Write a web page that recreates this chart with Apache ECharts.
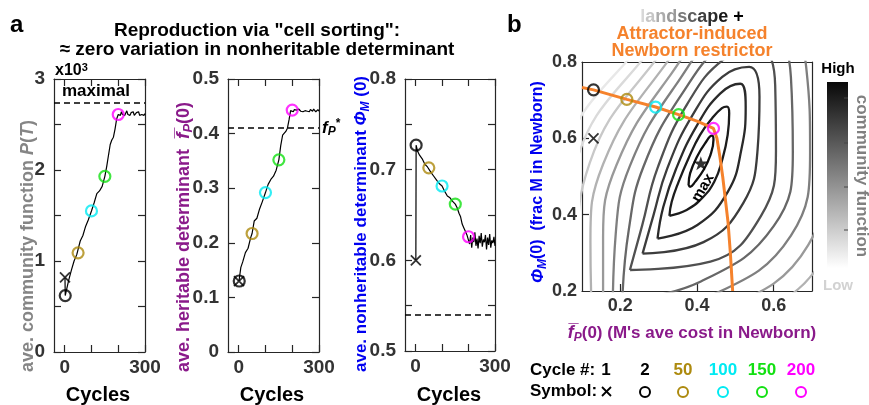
<!DOCTYPE html>
<html><head><meta charset="utf-8">
<script src="https://cdn.jsdelivr.net/npm/echarts@6/dist/echarts.min.js"></script>
<style>html,body{margin:0;padding:0;background:#fff}#c{width:869px;height:405px}</style>
</head><body><div id="c"></div>
<script>
// ---------------- DATA ----------------
const cycles = [1,2,8,15,25,35,45,50,58,68,78,88,100,110,120,130,140,150,157,164,170,176,182,188,194,200,
  204,208,212,216,220,224,228,232,236,240,244,248,252,256,260,264,268,272,276,280,284,288,292,296,300];
// ave. community function P(T), x10^3
const commFn = [0.82,0.62,0.70,0.79,0.90,1.00,1.07,1.09,1.22,1.28,1.38,1.45,1.55,1.64,1.74,1.77,1.82,1.93,2.04,2.17,2.28,2.33,2.36,2.45,2.56,2.61,
  2.62,2.60,2.64,2.61,2.63,2.60,2.62,2.65,2.61,2.62,2.60,2.63,2.62,2.64,2.60,2.62,2.63,2.61,2.64,2.60,2.62,2.61,2.63,2.60,2.62];
// ave. heritable determinant fP(0)
const heritable = [0.13,0.13,0.155,0.165,0.182,0.19,0.21,0.217,0.24,0.245,0.262,0.275,0.292,0.307,0.316,0.322,0.333,0.352,0.378,0.397,0.40,0.404,0.41,0.425,0.442,0.443,
  0.440,0.444,0.441,0.443,0.440,0.445,0.442,0.441,0.444,0.440,0.443,0.442,0.445,0.441,0.443,0.440,0.444,0.442,0.441,0.445,0.442,0.440,0.443,0.444,0.441];
// ave. nonheritable determinant PhiM(0)
const nonheritable = [0.60,0.727,0.72,0.716,0.712,0.706,0.703,0.702,0.697,0.693,0.689,0.685,0.682,0.676,0.671,0.669,0.665,0.662,0.658,0.652,0.648,0.640,0.636,0.632,0.628,0.626,
  0.618,0.628,0.614,0.625,0.620,0.631,0.616,0.624,0.613,0.627,0.619,0.630,0.615,0.623,0.620,0.628,0.612,0.625,0.617,0.629,0.614,0.622,0.619,0.626,0.616];

const crossCycle = 1;                       // cycle 1 -> "x"
const markerCycles = [2, 50, 100, 150, 200];  // circles
const markerLabels = ['2','50','100','150','200'];
const markerColors = ['#000000','#ad8a0e','#00eaf2','#12e012','#ff00ff'];

const maximalP = 2.74;   // "maximal" dashed line (x10^3)
const fPstar = 0.41;     // fP* dashed line
const phiStar = 0.54;    // dashed line in PhiM panel

// attractor-induced Newborn restrictor (panel b)
const restrictorFP  = [0.10,0.13,0.217,0.292,0.352,0.40,0.443,0.452,0.46,0.467,0.474,0.481,0.487,0.493];
const restrictorPhi = [0.733,0.727,0.702,0.682,0.662,0.645,0.626,0.60,0.55,0.50,0.44,0.38,0.30,0.20];
const maxPoint = [0.41, 0.535];

// contour lines of the community-function landscape (inner -> outer)
const ring1  = [[0.378,0.478],[0.382,0.508],[0.400,0.552],[0.421,0.587],[0.439,0.607],[0.443,0.596],[0.435,0.556],[0.417,0.517],[0.395,0.486],[0.382,0.473]];
const ring2  = [[0.328,0.397],[0.373,0.412],[0.413,0.443],[0.445,0.486],[0.467,0.548],[0.480,0.609],[0.484,0.666],[0.478,0.683],[0.465,0.679],[0.439,0.652],[0.408,0.609],[0.378,0.548],[0.352,0.486],[0.334,0.434]];
const ring3  = [[0.297,0.337],[0.401,0.373],[0.481,0.461],[0.516,0.572],[0.527,0.683],[0.513,0.743],[0.461,0.718],[0.400,0.634],[0.345,0.519],[0.312,0.420]];
const ring4  = [[0.258,0.298],[0.417,0.328],[0.521,0.431],[0.558,0.570],[0.563,0.709],[0.536,0.787],[0.466,0.761],[0.388,0.660],[0.322,0.520],[0.286,0.397]];
const ring5  = [[0.225,0.255],[0.435,0.277],[0.567,0.397],[0.606,0.566],[0.604,0.738],[0.562,0.836],[0.471,0.808],[0.374,0.689],[0.297,0.522],[0.257,0.372]];
const ring6  = [[0.205,0.175],[0.41,0.225],[0.60,0.37],[0.65,0.565],[0.645,0.76],[0.59,0.88],[0.475,0.85],[0.36,0.715],[0.26,0.525],[0.222,0.36]];
const ring7  = [[0.18,0.125],[0.42,0.18],[0.645,0.345],[0.695,0.565],[0.685,0.785],[0.615,0.925],[0.48,0.895],[0.345,0.74],[0.225,0.528],[0.188,0.35]];
const ring8  = [[0.155,0.075],[0.43,0.135],[0.69,0.32],[0.74,0.565],[0.725,0.81],[0.64,0.97],[0.485,0.94],[0.33,0.765],[0.19,0.53],[0.155,0.34]];
const ring9  = [[0.13,0.025],[0.44,0.09],[0.735,0.295],[0.785,0.565],[0.765,0.835],[0.665,1.015],[0.49,0.985],[0.315,0.79],[0.155,0.532],[0.122,0.33]];
const ring10 = [[0.105,-0.025],[0.45,0.045],[0.78,0.27],[0.83,0.565],[0.805,0.86],[0.69,1.06],[0.495,1.03],[0.30,0.815],[0.12,0.535],[0.09,0.32]];
const ring11 = [[0.08,-0.075],[0.46,0.0],[0.825,0.245],[0.875,0.565],[0.845,0.885],[0.715,1.105],[0.50,1.075],[0.285,0.84],[0.085,0.538],[0.058,0.31]];
const ring12 = [[0.055,-0.125],[0.47,-0.045],[0.87,0.22],[0.92,0.565],[0.885,0.91],[0.74,1.15],[0.505,1.12],[0.27,0.865],[0.05,0.54],[0.025,0.30]];
const rings = [ring1,ring2,ring3,ring4,ring5,ring6,ring7,ring8,ring9,ring10,ring11,ring12];
const ringColors = ['#111111','#1c1c1c','#2a2a2a','#3c3c3c','#505050','#676767','#7f7f7f','#999999','#b2b2b2','#c8c8c8','#dadada','#e8e8e8'];

// axis ticks / labels
const cycleTicks = [0,100,200,300], cycleLabels = [0,300];
const commTicksLbl = [0,1,2,3];
const phiLbl = [0.5,0.6,0.7,0.8];
const bxVals = [0.2,0.4,0.6];
const byTicks = [0.4,0.6], byLbl = [0.2,0.4,0.6,0.8];

// ---------------- CHART ----------------
const FONT = '"Liberation Sans", Arial, Helvetica, sans-serif';
const AX = '#262626';
const chart = echarts.init(document.getElementById('c'), null, {renderer:'canvas', width:869, height:405});

const idx = c => cycles.indexOf(c);
const lblStyle = (fs, margin) => ({show:true, color:'#333', fontSize:fs, fontWeight:'bold', fontFamily:FONT, margin:margin});
function xAx(g, min, max, pos, ticks, labels, fs) {
  return {type:'value', gridIndex:g, min:min, max:max, position:pos,
    axisLine:{show:true, onZero:false, lineStyle:{color:AX, width:1.2}},
    axisTick: ticks ? {show:true, inside:true, length:7, customValues:ticks, lineStyle:{color:AX, width:1.2}} : {show:false},
    axisLabel: labels ? Object.assign(lblStyle(fs, 6), {customValues:labels}) : {show:false},
    splitLine:{show:false}};
}
function yAx(g, min, max, pos, interval, ticks, labels, fs, margin) {
  const a = {type:'value', gridIndex:g, min:min, max:max, position:pos,
    axisLine:{show:true, onZero:false, lineStyle:{color:AX, width:1.2}},
    axisTick:{show:ticks !== false, inside:true, length:7, lineStyle:{color:AX, width:1.2}},
    axisLabel: labels ? Object.assign(lblStyle(fs, margin), labels === true ? {} : {customValues:labels}) : {show:false},
    splitLine:{show:false}};
  if (interval) a.interval = interval;
  if (Array.isArray(ticks)) a.axisTick.customValues = ticks;
  return a;
}

const grids = [
  {left:54, top:79, width:91, height:273},
  {left:228, top:79, width:91, height:273},
  {left:405, top:79, width:90, height:272},
  {left:582, top:62, width:230, height:229}
];
const xAxes = [
  xAx(0,-40,300,'bottom',cycleTicks,cycleLabels,19),
  xAx(1,-40,300,'bottom',cycleTicks,cycleLabels,19),
  xAx(2,-40,300,'bottom',cycleTicks,cycleLabels,19),
  xAx(0,-40,300,'top',cycleTicks,null),
  xAx(1,-40,300,'top',cycleTicks,null),
  xAx(2,-40,300,'top',cycleTicks,null),
  xAx(3,0.1,0.7,'bottom',bxVals,bxVals,18),
  xAx(3,0.1,0.7,'top',null,null)
];
const yAxes = [
  yAx(0,0,3,'left',0.5,true,commTicksLbl,19,9),
  yAx(1,0,0.5,'left',0.1,true,true,19,9),
  yAx(2,0.5,0.8,'left',0.05,true,phiLbl,19,9),
  yAx(0,0,3,'right',0.5,true,null),
  yAx(1,0,0.5,'right',0.1,true,null),
  yAx(2,0.5,0.8,'right',0.05,true,null),
  yAx(3,0.2,0.8,'left',null,byTicks,byLbl,18,5),
  yAx(3,0.2,0.8,'right',null,false,null)
];

const crossPath = 'path://M0,0L10,10M10,0L0,10';
const starPath = 'path://M50,0L61,35L98,35L68,57L79,91L50,70L21,91L32,57L2,35L39,35Z';
const series = [];
const panelVals = [commFn, heritable, nonheritable];
const refLines = [maximalP, fPstar, phiStar];
panelVals.forEach((vals, g) => {
  series.push({type:'line', xAxisIndex:g, yAxisIndex:g, data:cycles.map((c,i)=>[c, vals[i]]),
    showSymbol:false, symbol:'none', lineStyle:{color:'#000', width:1.2}, z:3, silent:true,
    markLine:{silent:true, symbol:'none', label:{show:false}, lineStyle:{color:'#000', type:[6,4], width:1.6},
      data:[{yAxis:refLines[g]}]}});
  series.push({type:'scatter', xAxisIndex:g, yAxisIndex:g, symbol:crossPath, symbolSize:10, z:5, silent:true,
    itemStyle:{color:'none', borderColor:'#000', borderWidth:1.8},
    data:[[crossCycle, vals[idx(crossCycle)]]]});
  series.push({type:'scatter', xAxisIndex:g, yAxisIndex:g, symbol:'circle', symbolSize:11, z:6, silent:true,
    data: markerCycles.map((c,k)=>({value:[c, vals[idx(c)]], itemStyle:{color:'rgba(0,0,0,0)', borderColor:markerColors[k], borderWidth:2.2}}))});
});
// panel b
rings.forEach((r,i) => series.push({type:'line', xAxisIndex:6, yAxisIndex:6, data:r.concat([r[0]]),
  smooth:0.45, showSymbol:false, symbol:'none', clip:true, silent:true, z:1,
  lineStyle:{color:ringColors[i], width:2.3}}));
series.push({type:'line', xAxisIndex:6, yAxisIndex:6, data:restrictorFP.map((x,i)=>[x, restrictorPhi[i]]),
  showSymbol:false, symbol:'none', clip:true, silent:true, z:3, lineStyle:{color:'#f5822c', width:3}});
series.push({type:'scatter', xAxisIndex:6, yAxisIndex:6, symbol:starPath, symbolSize:[15,14], z:4, silent:true,
  itemStyle:{color:'#000'}, data:[maxPoint]});
series.push({type:'scatter', xAxisIndex:6, yAxisIndex:6, symbol:crossPath, symbolSize:10, z:5, silent:true,
  itemStyle:{color:'none', borderColor:'#000', borderWidth:1.8},
  data:[[heritable[idx(crossCycle)], nonheritable[idx(crossCycle)]]]});
series.push({type:'scatter', xAxisIndex:6, yAxisIndex:6, symbol:'circle', symbolSize:11, z:6, silent:true,
  data: markerCycles.map((c,k)=>({value:[heritable[idx(c)], nonheritable[idx(c)]], itemStyle:{color:'rgba(0,0,0,0)', borderColor:markerColors[k], borderWidth:2.2}}))});

// ---------------- TEXT / DECORATION ----------------
function tok(fs, color, extra) {
  return Object.assign({fontSize:fs, fontWeight:'bold', fontFamily:FONT, fill:color, color:color}, extra||{});
}
function T(x, y, text, fs, color, align, extra, rot) {
  const el = {type:'text', x:x, y:y, silent:true, z:100,
    style:Object.assign({text:text, fontSize:fs, fontWeight:'bold', fontFamily:FONT, fill:color,
      align:align||'center', textAlign:align||'center', verticalAlign:'middle', textVerticalAlign:'middle'}, extra||{})};
  if (rot) el.rotation = rot;
  return el;
}
const g = [];
g.push(T(10,25,'a',24,'#000','left'));
g.push(T(507,25,'b',24,'#000','left'));
g.push(T(257,31,'Reproduction via "cell sorting":',19,'#000'));
g.push(T(257,50,'\u2248 zero variation in nonheritable determinant',19,'#000'));
// x10^3 and maximal
g.push(T(55,71,'{a|x10}{s|3}',16,'#000','left',{rich:{a:tok(16,'#000',{lineHeight:18}), s:tok(11,'#000',{verticalAlign:'top', lineHeight:11})}}));
g.push(T(96,91,'maximal',17,'#000'));
g.push(T(322,128,'{f|f}{s|P}{t|*}',17,'#000','left',{rich:{f:tok(17,'#000',{fontStyle:'italic', lineHeight:20}), s:tok(12,'#000',{fontStyle:'italic', verticalAlign:'bottom', lineHeight:12}), t:tok(12,'#000',{verticalAlign:'top', lineHeight:12})}}));
// Cycles
[98, 272, 449].forEach(x => g.push(T(x,395,'Cycles',20,'#000')));
// y axis titles (rotated)
const purple = '#8a1a8a', blue = '#0000f0', grayLbl = '#858585';
g.push(T(28,372,'{n|ave. community function }{i|P}{n|(}{i|T}{n|)}',18,grayLbl,'left',
  {rich:{n:tok(18,grayLbl), i:tok(18,grayLbl,{fontStyle:'italic'})}}, Math.PI/2));
g.push(T(184,372,'{n|ave. heritable determinant  }{i|f\u0305}{s|P}{n|(0)}',18,purple,'left',
  {rich:{n:tok(18,purple,{lineHeight:22}), i:tok(19,purple,{fontStyle:'italic', lineHeight:22}), s:tok(13,purple,{fontStyle:'italic', verticalAlign:'bottom', lineHeight:13})}}, Math.PI/2));
g.push(T(361,372,'{n|ave. nonheritable determinant }{i|\u03A6}{s|M}{n| (0)}',17,blue,'left',
  {rich:{n:tok(17,blue,{lineHeight:22}), i:tok(17,blue,{fontStyle:'italic', lineHeight:22}), s:tok(12,blue,{fontStyle:'italic', verticalAlign:'bottom', lineHeight:12})}}, Math.PI/2));
// panel b titles
const lc = ['#d8d8d8','#c6c6c6','#acacac','#9a9a9a','#7a7a7a','#5e5e5e','#404040','#2a2a2a','#161616'];
const land = 'landscape'.split('').map((ch,i)=>'{c'+i+'|'+ch+'}').join('') + '{k| +}';
const landRich = {k:tok(18,'#000')};
lc.forEach((c,i)=>landRich['c'+i] = tok(18,c));
g.push(T(692,17,land,18,'#000','center',{rich:landRich}));
g.push(T(692,34,'Attractor-induced',18,'#f5822c'));
g.push(T(692,51,'Newborn restrictor',18,'#f5822c'));
// panel b axis titles
g.push(T(538,283,'{i|\u03A6}{s|M}{n|(0)  (frac M in Newborn)}',16,blue,'left',
  {rich:{n:tok(16,blue,{lineHeight:22}), i:tok(17,blue,{fontStyle:'italic', lineHeight:22}), s:tok(12,blue,{fontStyle:'italic', verticalAlign:'bottom', lineHeight:12})}}, Math.PI/2));
g.push(T(692,333,'{i|f\u0305}{s|P}{n|(0) (M\'s ave cost in Newborn)}',17,purple,'center',
  {rich:{n:tok(17,purple,{lineHeight:22}), i:tok(18,purple,{fontStyle:'italic', lineHeight:22}), s:tok(12,purple,{fontStyle:'italic', verticalAlign:'bottom', lineHeight:12})}}));
// max label
g.push(T(703,188,'max',15,'#000','center',null, Math.PI/3));
// colorbar
g.push({type:'rect', silent:true, shape:{x:827, y:82, width:21, height:186},
  style:{fill:new echarts.graphic.LinearGradient(0,0,0,1,[{offset:0,color:'#080808'},{offset:1,color:'#ffffff'}])}});
[98,143,187,230].forEach(y => g.push({type:'line', silent:true, shape:{x1:844,y1:y,x2:848,y2:y}, style:{stroke:'#444', lineWidth:1}}));
g.push(T(838,69,'High',15,'#000'));
g.push(T(838,286,'Low',15,'#d2d2d2'));
g.push(T(862,176,'community function',17,'#808080','center',null,-Math.PI/2));
// legend
g.push(T(530,370,'Cycle #:',17,'#000','left'));
g.push(T(530,391,'Symbol:',17,'#000','left'));
const legX = [606,645,683,723,762,801];
g.push(T(legX[0],370,String(crossCycle),17,'#000'));
markerLabels.forEach((s,k)=>g.push(T(legX[k+1],370,s,17,markerColors[k])));
g.push({type:'line', silent:true, shape:{x1:602,y1:387,x2:611,y2:396}, style:{stroke:'#000', lineWidth:1.8}});
g.push({type:'line', silent:true, shape:{x1:611,y1:387,x2:602,y2:396}, style:{stroke:'#000', lineWidth:1.8}});
markerColors.forEach((c,k)=>g.push({type:'circle', silent:true, shape:{cx:legX[k+1], cy:392, r:5}, style:{fill:'none', stroke:c, lineWidth:2}}));

chart.setOption({
  animation:false,
  backgroundColor:'#fff',
  grid:grids, xAxis:xAxes, yAxis:yAxes, series:series, graphic:g
});
</script>
</body></html>
